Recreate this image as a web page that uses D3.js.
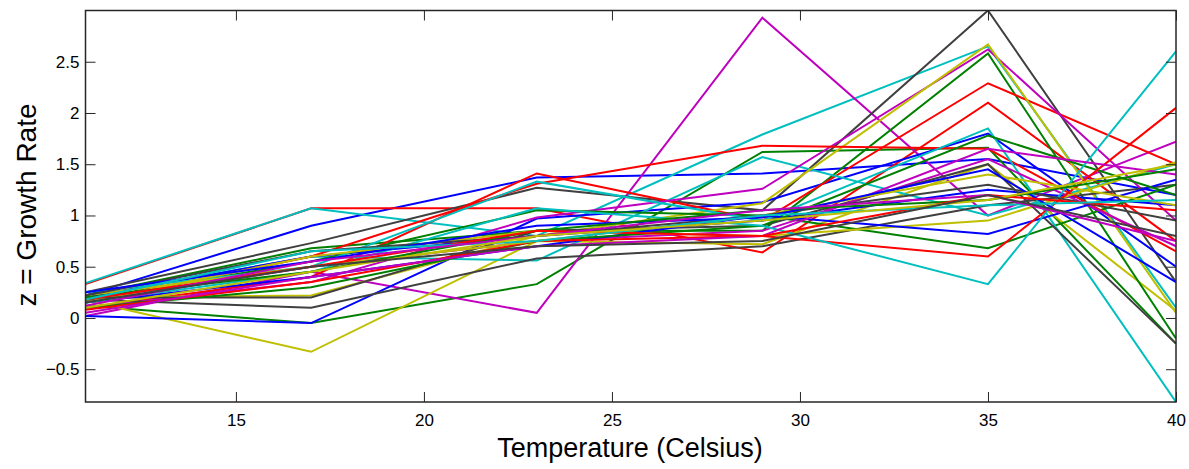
<!DOCTYPE html>
<meta charset="utf-8">
<head>
  <title>Growth rate vs temperature</title>
  <script src="https://d3js.org/d3.v7.min.js"></script>
  <style>
    body { margin: 0; background: #fff; }
    svg { font-family: "Liberation Sans", Arial, Helvetica, sans-serif; }
    .axis text { font-size: 17px; fill: #000; }
    .axis path, .axis line { stroke: #262626; }
  </style>
</head>
<body>
<svg></svg>
<script>
// temperatures where growth was measured
var temps = [11, 17, 23, 29, 35, 40];

// matlab's old colour order, cycled over the series
var colorOrder = ["#0000ff", "#008000", "#ff0000", "#00bfbf", "#bf00bf", "#bfbf00", "#404040"];

// one row per strain
var blue1 = [0.22, 0.90, 1.37, 1.41, 1.55, 1.20];
var green1 = [0.12, -0.05, 0.33, 1.62, 1.66, -0.25];
var red1 = [0.33, 1.07, 1.07, 0.64, 2.10, 0.75];
var cyan1 = [0.34, 1.07, 0.80, 1.79, 2.65, 0.10];
var magenta1 = [0.02, 0.45, 0.05, 2.93, 1.00, 1.72];
var yellow1 = [0.17, -0.33, 0.75, 0.72, 1.50, 0.07];
var gray1 = [0.25, 0.73, 1.27, 1.05, 3.00, 0.35];

var blue2 = [0.02, -0.05, 0.97, 1.13, 1.80, 0.50];
var green2 = [0.22, 0.68, 0.85, 0.85, 2.58, -0.20];
var red2 = [0.10, 0.40, 1.41, 0.95, 2.29, 1.50];
var cyan2 = [0.20, 0.60, 0.56, 1.57, 1.00, 1.50];
var magenta2 = [0.10, 0.35, 0.98, 1.26, 2.62, 0.95];
var yellow2 = [0.20, 0.22, 0.80, 1.12, 2.67, 0.05];
var gray2 = [0.18, 0.10, 0.58, 0.70, 1.10, 1.30];

var blue3 = [0.20, 0.60, 0.80, 0.95, 1.25, 1.10];
var green3 = [0.18, 0.55, 1.05, 1.00, 0.68, 1.30];
var red3 = [0.15, 0.60, 1.31, 1.68, 1.65, 0.65];
var cyan3 = [0.25, 0.50, 1.33, 0.95, 1.85, -0.82];
var magenta3 = [0.15, 0.50, 0.75, 0.85, 1.55, 0.70];
var yellow3 = [0.15, 0.60, 0.85, 0.80, 0.95, 1.52];
var gray3 = [0.20, 0.20, 0.85, 0.90, 1.50, -0.25];

var blue4 = [0.15, 0.40, 0.70, 1.00, 0.82, 1.35];
var green4 = [0.10, 0.30, 0.75, 0.90, 1.78, 1.20];
var red4 = [0.08, 0.35, 0.75, 0.80, 0.60, 2.05];
var cyan4 = [0.15, 0.45, 1.07, 0.90, 0.33, 2.60];
var magenta4 = [0.05, 0.40, 0.70, 0.80, 1.65, 1.40];
var yellow4 = [0.22, 0.50, 0.75, 1.00, 1.40, 1.10];
var gray4 = [0.22, 0.65, 0.80, 1.00, 1.30, 0.95];

var blue5 = [0.25, 0.55, 0.90, 0.98, 1.45, 0.35];
var green5 = [0.20, 0.45, 0.85, 1.05, 1.15, 1.45];
var red5 = [0.18, 0.50, 0.85, 0.80, 1.20, 1.05];
var cyan5 = [0.18, 0.65, 0.75, 1.00, 1.10, 1.15];
var magenta5 = [0.12, 0.55, 0.80, 1.05, 1.20, 0.75];
var yellow5 = [0.10, 0.45, 0.80, 0.95, 1.15, 1.50];
var gray5 = [0.15, 0.50, 0.70, 0.75, 1.20, 0.80];

var series = [
  blue1, green1, red1, cyan1, magenta1, yellow1, gray1,
  blue2, green2, red2, cyan2, magenta2, yellow2, gray2,
  blue3, green3, red3, cyan3, magenta3, yellow3, gray3,
  blue4, green4, red4, cyan4, magenta4, yellow4, gray4,
  blue5, green5, red5, cyan5, magenta5, yellow5, gray5
];

var xTicks = [15, 20, 25, 30, 35, 40];
var yTicks = [-0.5, 0, 0.5, 1, 1.5, 2, 2.5];

var W = 1189, H = 469;
var margin = {top: 10.5, right: 13, bottom: 67, left: 85.5};
var width = W - margin.left - margin.right;
var height = H - margin.top - margin.bottom;

var svg = d3.select("svg").attr("width", W).attr("height", H);
var g = svg.append("g").attr("transform", "translate(" + margin.left + "," + margin.top + ")");

// axis tight, like matlab
var allVals = d3.merge(series);
var x = d3.scaleLinear().domain(d3.extent(temps)).range([0, width]);
var y = d3.scaleLinear().domain(d3.extent(allVals)).range([height, 0]);

g.append("defs").append("clipPath").attr("id", "clip")
  .append("rect").attr("width", width).attr("height", height);

var line = d3.line()
  .x(function(d, i) { return x(temps[i]); })
  .y(function(d) { return y(d); });

g.append("g").attr("clip-path", "url(#clip)")
  .selectAll("path.series")
  .data(series)
  .enter().append("path")
  .attr("class", "series")
  .attr("d", line)
  .attr("fill", "none")
  .attr("stroke-width", 2)
  .attr("stroke-linejoin", "miter")
  .attr("stroke", function(d, i) { return colorOrder[i % colorOrder.length]; });

// ticks point inward, on all four sides
var xAxis = d3.axisBottom(x).tickValues(xTicks).tickSizeInner(-10).tickSizeOuter(0).tickPadding(12);
var yAxis = d3.axisLeft(y).tickValues(yTicks).tickSizeInner(-10).tickSizeOuter(0).tickPadding(6)
  .tickFormat(function(d) { return d < 0 ? "\u2212" + Math.abs(d) : d; });

g.append("g").attr("class", "axis").attr("transform", "translate(0," + height + ")").call(xAxis);
g.append("g").attr("class", "axis").call(yAxis);
g.append("g").attr("class", "axis").call(d3.axisTop(x).tickValues(xTicks).tickSizeInner(-10).tickSizeOuter(0).tickFormat(""));
g.append("g").attr("class", "axis").attr("transform", "translate(" + width + ",0)")
  .call(d3.axisRight(y).tickValues(yTicks).tickSizeInner(-10).tickSizeOuter(0).tickFormat(""));

g.selectAll(".axis path").remove();
g.append("rect")
  .attr("width", width).attr("height", height)
  .attr("fill", "none").attr("stroke", "#262626").attr("stroke-width", 1.5);

svg.append("text")
  .attr("x", 630)
  .attr("y", 457)
  .attr("text-anchor", "middle")
  .style("font-size", "27px")
  .text("Temperature (Celsius)");

svg.append("text")
  .attr("transform", "translate(36,205) rotate(-90)")
  .attr("text-anchor", "middle")
  .style("font-size", "28px")
  .text("z = Growth Rate");
</script>
</body>
